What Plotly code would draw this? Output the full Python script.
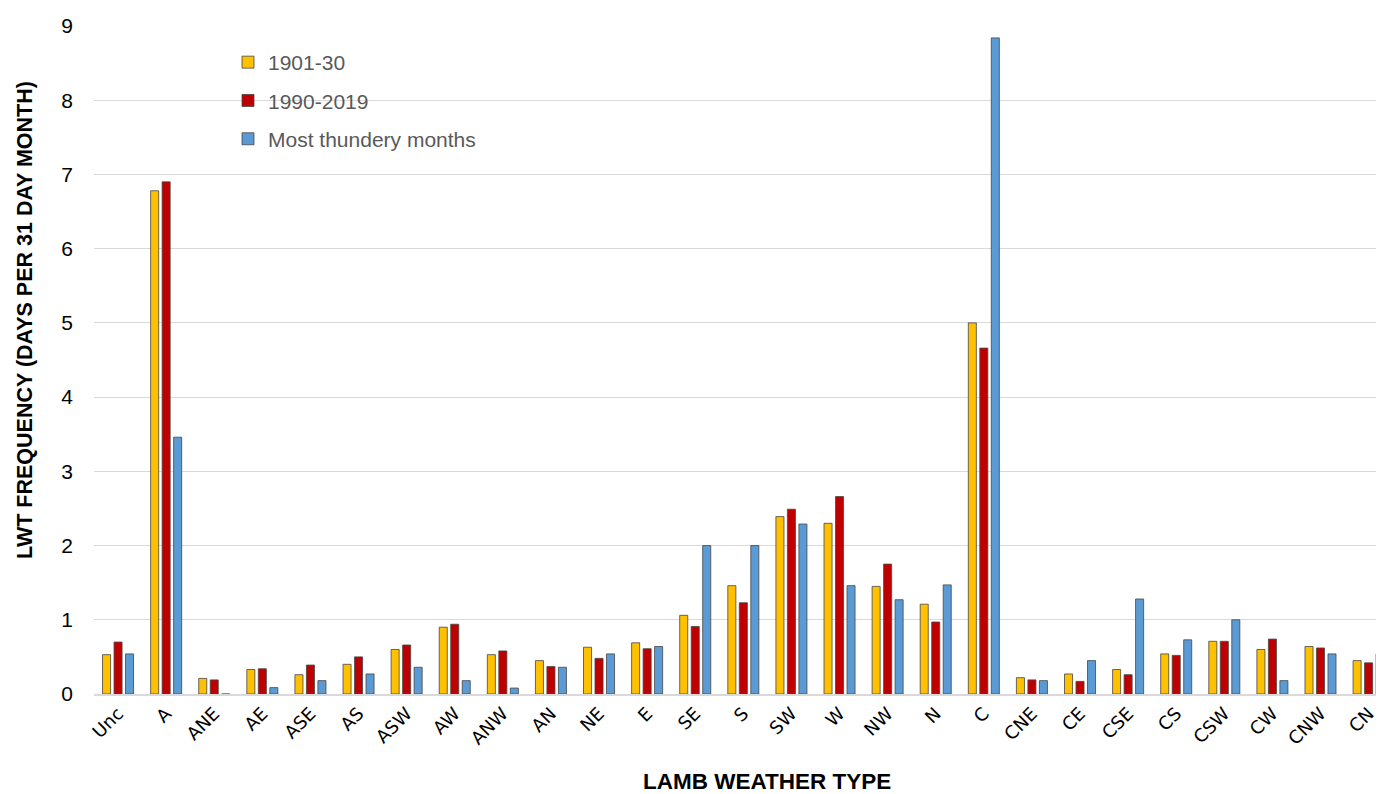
import plotly.graph_objects as go

categories = ["Unc", "A", "ANE", "AE", "ASE", "AS", "ASW", "AW", "ANW", "AN", "NE", "E",
              "SE", "S", "SW", "W", "NW", "N", "C", "CNE", "CE", "CSE", "CS", "CSW",
              "CW", "CNW", "CN"]

early_1901_30 = [0.53, 6.78, 0.21, 0.33, 0.26, 0.40, 0.60, 0.90, 0.53, 0.45, 0.63, 0.69,
                 1.06, 1.46, 2.39, 2.30, 1.45, 1.21, 5.00, 0.22, 0.27, 0.33, 0.54, 0.71,
                 0.60, 0.64, 0.45]
recent_1990_2019 = [0.70, 6.90, 0.19, 0.34, 0.39, 0.50, 0.66, 0.94, 0.58, 0.37, 0.48, 0.61,
                    0.91, 1.23, 2.49, 2.66, 1.75, 0.97, 4.66, 0.19, 0.17, 0.26, 0.52, 0.71,
                    0.74, 0.62, 0.42]
thundery = [0.54, 3.46, 0.0, 0.086, 0.18, 0.27, 0.36, 0.18, 0.08, 0.36, 0.54, 0.64,
            2.00, 2.00, 2.29, 1.46, 1.27, 1.47, 8.84, 0.18, 0.45, 1.28, 0.73, 1.00,
            0.18, 0.54, 0.54]

series_names = ["1901-30", "1990-2019", "Most thundery months"]
series_colors = ["#FFC000", "#C00000", "#5B9BD5"]
series_values = [early_1901_30, recent_1990_2019, thundery]

y_ticks = [0, 1, 2, 3, 4, 5, 6, 7, 8, 9]

# page body has an 8px margin; figure sits at (8, 8)
OFF = 8
PAGE_W, PAGE_H = 1384, 794
W, H = PAGE_W - OFF, PAGE_H - OFF
PLOT_L, PLOT_T, PLOT_B, PLOT_R = 94, 26, 694, 1384   # page pixels
L, T = PLOT_L - OFF, PLOT_T - OFF
R = W - (PLOT_R - OFF)
B = H - (PLOT_B - OFF)
pw, ph = W - L - R, H - T - B

def px_x(x):
    return (x - PLOT_L) / pw

def px_y(y):
    return (PLOT_B - y) / ph

fig = go.Figure()
for i, (name, col, vals) in enumerate(zip(series_names, series_colors, series_values)):
    fig.add_trace(go.Bar(
        x=categories, y=vals, name=name, legendgroup=f"g{i}",
        marker=dict(color=col, line=dict(color="rgba(70,70,70,0.8)", width=1)),
    ))

fig.update_layout(
    width=W, height=H,
    margin=dict(l=L, r=R, t=T, b=B, pad=0),
    paper_bgcolor="white", plot_bgcolor="white",
    barmode="group", bargap=0.283, bargroupgap=0.30,
    font=dict(family="Liberation Sans, Arial, sans-serif", color="#000000"),
    showlegend=True,
    legend=dict(
        x=px_x(228), xanchor="left", y=px_y(42), yanchor="top",
        bgcolor="rgba(0,0,0,0)", borderwidth=0,
        font=dict(size=21, color="#595959", family="Liberation Sans, Arial, sans-serif"),
        tracegroupgap=8, traceorder="grouped",
    ),
    xaxis=dict(
        type="category", categoryorder="array", categoryarray=categories,
        range=[-0.5, 26.32], tickangle=-45,
        tickfont=dict(family="DejaVu Sans, sans-serif", size=18, color="#000000"),
        showgrid=False, showline=True, linecolor="#d9d9d9", linewidth=2,
        ticks="", zeroline=False,
    ),
    yaxis=dict(
        range=[0, 9], tickvals=y_ticks, ticktext=[str(v) for v in y_ticks],
        showgrid=True, gridcolor="#d9d9d9", gridwidth=1.3,
        zeroline=False, showline=False, ticks="",
        tickfont=dict(size=21, color="#000000"), ticklabelstandoff=20,
    ),
    shapes=[dict(
        type="rect", xref="paper", yref="paper",
        x0=px_x(185), x1=px_x(537), y0=px_y(160), y1=px_y(40),
        fillcolor="white", line=dict(width=0), layer="between",
    )],
    annotations=[
        dict(text="<b>LWT FREQUENCY (DAYS PER 31 DAY MONTH)</b>", xref="paper", yref="paper",
             x=px_x(25), y=px_y(320), xanchor="center", yanchor="middle", textangle=-90,
             showarrow=False, font=dict(size=21.5, color="#000000")),
        dict(text="<b>LAMB WEATHER TYPE</b>", xref="paper", yref="paper",
             x=px_x(767), y=px_y(781), xanchor="center", yanchor="middle",
             showarrow=False, font=dict(size=22.5, color="#000000")),
    ],
)

fig.write_html("out.html")
